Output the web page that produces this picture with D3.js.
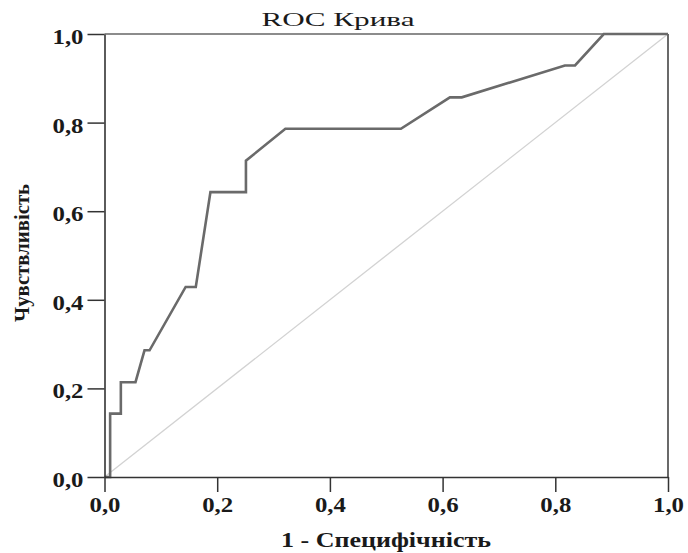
<!DOCTYPE html>
<html><head><meta charset="utf-8">
<script src="https://cdn.jsdelivr.net/npm/d3@7"></script>
<style>body{margin:0;background:#fff}svg{display:block}</style>
</head><body>
<svg id="c" width="688" height="553"></svg>
<script>
const titleText = "ROC Крива";
const xTitle = "1 - Специфічність";
const yTitle = "Чувствливість";
const xTicks = [0, 0.2, 0.4, 0.6, 0.8, 1.0];
const yTicks = [0, 0.2, 0.4, 0.6, 0.8, 1.0];
const fpr = [0, 0.010, 0.010, 0.029, 0.029, 0.055, 0.071, 0.080, 0.144, 0.162, 0.188, 0.251, 0.251, 0.321, 0.526, 0.613, 0.634, 0.817, 0.835, 0.886, 1.0];
const tpr = [0, 0, 0.143, 0.143, 0.214, 0.214, 0.286, 0.286, 0.429, 0.429, 0.643, 0.643, 0.714, 0.786, 0.786, 0.857, 0.857, 0.929, 0.929, 1.0, 1.0];
const refLine = [0, 1];

const svg = d3.select("#c");
svg.append("rect").attr("width",688).attr("height",553).attr("fill","#fff");
const x = d3.scaleLinear().domain([0,1]).range([104.5,668]);
const y = d3.scaleLinear().domain([0,1]).range([477,34]);
const fmt = d => d3.format(".1f")(d).replace(".", ",");
const font = "'Liberation Serif','Times New Roman',serif";

// reference diagonal
svg.append("line")
  .attr("x1", x(refLine[0])).attr("y1", y(refLine[0]))
  .attr("x2", x(refLine[1])).attr("y2", y(refLine[1]))
  .attr("stroke","#d2d2d2").attr("stroke-width",1.3);

// top & right frame
svg.append("line").attr("x1",x(0)).attr("x2",x(1)).attr("y1",y(1)).attr("y2",y(1))
  .attr("stroke","#8c8c8c").attr("stroke-width",2);
svg.append("line").attr("x1",x(1)).attr("x2",x(1)).attr("y1",y(1)).attr("y2",y(0))
  .attr("stroke","#444").attr("stroke-width",1.6);

// ROC curve
const pts = fpr.map((f,i)=>[f,tpr[i]]);
svg.append("path").datum(pts)
  .attr("d", d3.line().x(d=>x(d[0])).y(d=>y(d[1])))
  .attr("fill","none").attr("stroke","#6a6a6a").attr("stroke-width",2.6)
  .attr("stroke-linejoin","miter");

// axes
const gx = svg.append("g").attr("transform",`translate(0,${y(0)})`)
  .call(d3.axisBottom(x).tickValues(xTicks).tickSize(15).tickSizeOuter(0).tickFormat(fmt));
const gy = svg.append("g").attr("transform",`translate(${x(0)},0)`)
  .call(d3.axisLeft(y).tickValues(yTicks).tickSize(17).tickSizeOuter(0).tickFormat(fmt));
[gx,gy].forEach(g=>{
  g.select(".domain").attr("stroke","#333").attr("stroke-width",1.6);
  g.selectAll(".tick line").attr("stroke","#333").attr("stroke-width",1.5);
  g.selectAll(".tick text").attr("fill","#1a1a1a")
    .style("font-family",font).style("font-size","20px").style("font-weight","bold")
    .attr("textLength",31).attr("lengthAdjust","spacingAndGlyphs");
});
gx.selectAll(".tick text").attr("y",35).attr("dy",null);
gy.selectAll(".tick text").attr("x",-21).attr("dy",null).attr("y",9.5);

// titles
svg.append("text").attr("x",338).attr("y",26).attr("text-anchor","middle")
  .style("font-family",font).style("font-size","19px").attr("fill","#1a1a1a")
  .attr("textLength",153).attr("lengthAdjust","spacingAndGlyphs").text(titleText);
svg.append("text").attr("x",386).attr("y",547).attr("text-anchor","middle")
  .style("font-family",font).style("font-size","20px").style("font-weight","bold").attr("fill","#1a1a1a")
  .attr("textLength",210).attr("lengthAdjust","spacingAndGlyphs").text(xTitle);
svg.append("text").attr("transform","translate(29,253) rotate(-90)").attr("text-anchor","middle")
  .style("font-family",font).style("font-size","20px").style("font-weight","bold").attr("fill","#1a1a1a")
  .attr("textLength",138).attr("lengthAdjust","spacingAndGlyphs").text(yTitle);
</script>
</body></html>
